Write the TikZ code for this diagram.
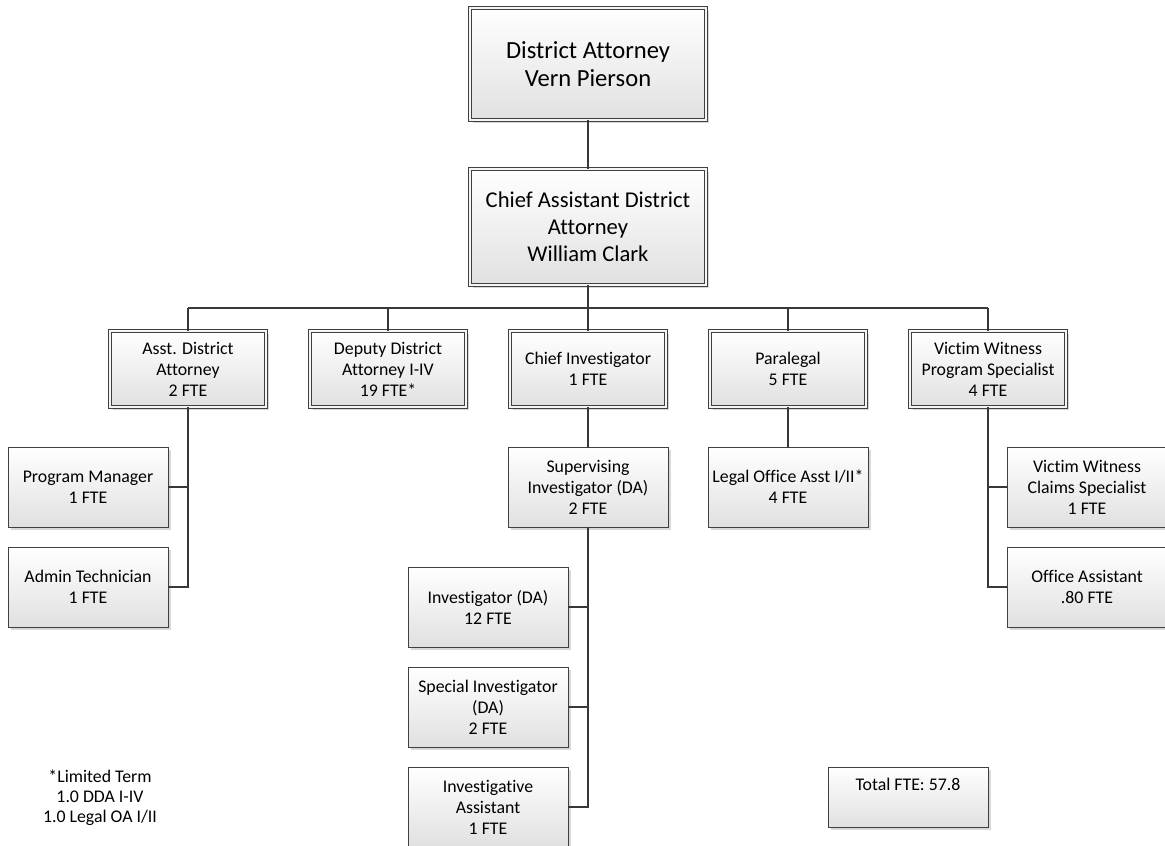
\documentclass[tikz,border=0pt]{standalone}
\usepackage{fontspec}
\setmainfont{Carlito}[Ligatures=NoCommon]
\usepackage{tikz}
\usetikzlibrary{calc, shadows, positioning}

\tikzset{
    unit/.style={draw=black!75, line width=0.8pt, top color=white, bottom color=black!12,
        align=center, inner sep=2pt, font=\fontsize{17.8}{21}\selectfont,
        minimum width=160pt, minimum height=80pt,
        drop shadow={shadow xshift=3pt, shadow yshift=-3pt, fill=black!30, opacity=0.5}},
    headunit/.style={unit, double=black!4, double distance=2.2pt, line width=0.7pt,
        minimum width=156pt, minimum height=76pt},
    topunit/.style={headunit, minimum width=236pt, minimum height=112pt},
    link/.style={draw=black!78, line width=2.8pt}
}

\begin{document}
\begin{tikzpicture}[x=1pt, y=-1pt]
    \useasboundingbox (0,0) rectangle (1165,846);

    % Top of the office
    \node[topunit, font=\fontsize{24.6}{28}\selectfont] (da) at (588,64) {District Attorney\\Vern Pierson};
    \node[topunit, minimum height=116pt, font=\fontsize{22.6}{27}\selectfont] (cada) at (588,227)
        {Chief Assistant District\\Attorney\\William Clark};

    % Divisions
    \node[headunit] (ada)  at (188,369) {Asst. District\\Attorney\\2 FTE};
    \node[headunit] (dda)  at (388,369) {Deputy District\\Attorney I-IV\\19 FTE*};
    \node[headunit] (cinv) at (588,369) {Chief Investigator\\1 FTE};
    \node[headunit] (para) at (788,369) {Paralegal\\5 FTE};
    \node[headunit] (vwps) at (988,369) {Victim Witness\\Program Specialist\\4 FTE};

    % Staff
    \node[unit] (pmgr)  at (88,487)   {Program Manager\\1 FTE};
    \node[unit] (atech) at (88,587)   {Admin Technician\\1 FTE};
    \node[unit] (sinv)  at (588,487)  {Supervising\\Investigator (DA)\\2 FTE};
    \node[unit] (loa)   at (788,487)  {Legal Office Asst I/II*\\4 FTE};
    \node[unit] (vwcs)  at (1087,487) {Victim Witness\\Claims Specialist\\1 FTE};
    \node[unit] (oa)    at (1087,587) {Office Assistant\\.80 FTE};
    \node[unit] (inv)   at (488,607)  {Investigator (DA)\\12 FTE};
    \node[unit] (spinv) at (488,707)  {Special Investigator\\(DA)\\2 FTE};
    \node[unit] (iasst) at (488,807)  {Investigative\\Assistant\\1 FTE};

    % Notes
    \node[align=center, font=\fontsize{17.8}{20}\selectfont] (note) at (100,798)
        {*Limited Term\\1.0 DDA I-IV\\1.0 Legal OA I/II};
    \node[unit, minimum height=60pt, text depth=26pt] (total) at (908,797) {Total FTE: 57.8};

    % Reporting lines
    \coordinate (bus) at (588,308);
    \draw[link] (da) -- (cada);
    \draw[link] (cada) -- (bus);
    \draw[link] (bus -| ada.north) -- (bus -| vwps.north);
    \foreach \n in {ada, dda, cinv, para, vwps}
        \draw[link] (bus -| \n.north) -- (\n.north);
    \draw[link] (ada.south) |- (pmgr.east);
    \draw[link] (ada.south) |- (atech.east);
    \draw[link] (cinv) -- (sinv);
    \draw[link] (para) -- (loa);
    \draw[link] (vwps.south) |- (vwcs.west);
    \draw[link] (vwps.south) |- (oa.west);
    \foreach \n in {inv, spinv, iasst}
        \draw[link] (sinv.south) |- (\n.east);
\end{tikzpicture}
\end{document}
